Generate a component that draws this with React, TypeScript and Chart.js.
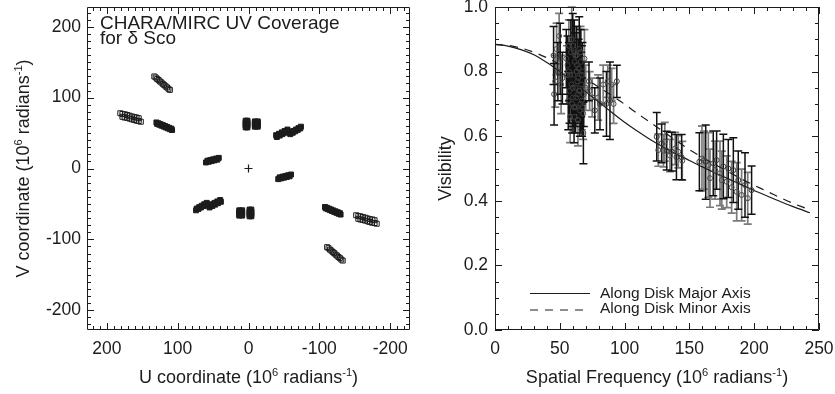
import { useEffect, useRef } from "react";
import { Chart, registerables } from "chart.js";
Chart.register(...registerables);

const FONT = "'Liberation Sans', Arial, Helvetica, sans-serif";
const INK = "#1c1c1c";

// ---------- Left panel: UV coverage ----------
const uOpen = [
  133, 131, 129, 127, 125, 123, 121, 119, 117, 115, 113, 111,
  -111, -113, -115, -117, -119, -121, -123, -125, -127, -129, -131, -133,
  181, 178, 174.5, 171, 168, 164.5, 161, 158, 155,
  178, 175, 171.5, 168, 165, 161.5, 158, 155, 152,
  -181, -178, -174.5, -171, -168, -164.5, -161, -158, -155,
  -178, -175, -171.5, -168, -165, -161.5, -158, -155, -152,
];
const vOpen = [
  130, 128.5, 126.5, 125, 123, 121.5, 119.5, 118, 116, 114.5, 112.5, 111,
  -111, -112.5, -114.5, -116, -118, -119.5, -121.5, -123, -125, -126.5, -128.5, -130,
  78, 77, 76.5, 75.5, 74.5, 73.5, 72.5, 72, 71,
  73, 72, 71.5, 70.5, 69.5, 68.5, 67.5, 67, 66,
  -78, -77, -76.5, -75.5, -74.5, -73.5, -72.5, -72, -71,
  -73, -72, -71.5, -70.5, -69.5, -68.5, -67.5, -67, -66,
];
const uFilled = [
  130, 127, 124, 121, 118, 115, 112, 109,
  129, 126, 123, 120, 117, 114, 111, 108,
  -130, -127, -124, -121, -118, -115, -112, -109,
  -129, -126, -123, -120, -117, -114, -111, -108,
  1.5, 1.5, 1.5, 1.5, 1.5, 4, 4, 4, 4, 4,
  -9, -9, -9, -9, -9, -13, -13, -13, -13, -13,
  -1.5, -1.5, -1.5, -1.5, -1.5, -4, -4, -4, -4, -4,
  9, 9, 9, 9, 9, 13, 13, 13, 13, 13,
  -39, -43, -47, -51, -55, -40, -44, -48, -52, -56,
  -60, -63.5, -67, -70.5, -74, -59, -62.5, -66, -69.5, -73,
  39, 43, 47, 51, 55, 40, 44, 48, 52, 56,
  60, 63.5, 67, 70.5, 74, 59, 62.5, 66, 69.5, 73,
  60, 56, 52, 48, 44, 58, 54, 50, 46, 42,
  -60, -56, -52, -48, -44, -58, -54, -50, -46, -42,
];
const vFilled = [
  65, 63.8, 62.5, 61.3, 60, 58.8, 57.5, 56.3,
  63, 61.8, 60.5, 59.3, 58, 56.8, 55.5, 54.3,
  -65, -63.8, -62.5, -61.3, -60, -58.8, -57.5, -56.3,
  -63, -61.8, -60.5, -59.3, -58, -56.8, -55.5, -54.3,
  58, 60.5, 63, 65.5, 67.5, 58, 60.5, 63, 65.5, 67.5,
  59, 61, 63, 65, 66.5, 59, 61, 63, 65, 66.5,
  -58, -60.5, -63, -65.5, -67.5, -58, -60.5, -63, -65.5, -67.5,
  -59, -61, -63, -65, -66.5, -59, -61, -63, -65, -66.5,
  47, 49, 51, 53, 55, 44.5, 46.5, 48.5, 50.5, 52.5,
  51, 53, 55, 57, 59, 48.5, 50.5, 52.5, 54.5, 56.5,
  -47, -49, -51, -53, -55, -44.5, -46.5, -48.5, -50.5, -52.5,
  -51, -53, -55, -57, -59, -48.5, -50.5, -52.5, -54.5, -56.5,
  8.5, 9.5, 10.5, 11.5, 12.5, 11, 12, 13, 14, 15,
  -8.5, -9.5, -10.5, -11.5, -12.5, -11, -12, -13, -14, -15,
];
const uOrigin = [0];
const vOrigin = [0];
const uvTickValues = [200, 100, 0, -100, -200];
const uvTickLabels = ["200", "100", "0", "-100", "-200"];
const titleLines = ["CHARA/MIRC UV Coverage", "for δ Sco"];

// ---------- Right panel: visibilities ----------
const freqA = [45.2, 45.6, 48.5, 50.3, 52.0, 55.0, 56.0, 56.5, 57.0, 57.5, 58.0, 58.5, 59.0, 59.5, 60.0, 60.2, 60.5, 61.0, 61.2, 61.5, 62.0, 62.2, 62.5, 63.0, 63.2, 63.5, 64.0, 64.2, 64.5, 65.0, 65.2, 65.5, 66.0, 66.2, 66.5, 67.0, 67.2, 67.5, 68.2, 68.5, 72.5, 77.0, 81.0, 86.0, 88.7, 94.0, 124.8, 128.6, 132.5, 136.3, 140.0, 144.0, 157.7, 162.6, 168.4, 171.0, 176.2, 180.0, 183.9, 187.7, 192.9, 198.0];
const visA = [0.85, 0.73, 0.80, 0.84, 0.78, 0.84, 0.82, 0.71, 0.80, 0.74, 0.79, 0.86, 0.76, 0.70, 0.88, 0.72, 0.79, 0.66, 0.86, 0.83, 0.75, 0.69, 0.72, 0.85, 0.82, 0.77, 0.73, 0.78, 0.81, 0.87, 0.74, 0.68, 0.70, 0.83, 0.76, 0.79, 0.69, 0.80, 0.61, 0.73, 0.77, 0.68, 0.70, 0.70, 0.71, 0.77, 0.598, 0.578, 0.555, 0.552, 0.535, 0.535, 0.521, 0.52, 0.516, 0.526, 0.506, 0.50, 0.495, 0.464, 0.449, 0.433];
const errA = [0.09, 0.095, 0.09, 0.11, 0.08, 0.09, 0.09, 0.09, 0.09, 0.10, 0.09, 0.10, 0.10, 0.09, 0.10, 0.09, 0.10, 0.08, 0.10, 0.09, 0.09, 0.08, 0.09, 0.09, 0.10, 0.10, 0.09, 0.09, 0.09, 0.10, 0.09, 0.08, 0.09, 0.10, 0.10, 0.09, 0.09, 0.09, 0.095, 0.10, 0.06, 0.07, 0.08, 0.10, 0.12, 0.05, 0.075, 0.06, 0.06, 0.06, 0.07, 0.07, 0.09, 0.115, 0.10, 0.09, 0.10, 0.09, 0.10, 0.09, 0.10, 0.075];
const freqB = [46.5, 47.5, 49.5, 51.0, 55.5, 57.0, 58.0, 59.2, 60.0, 61.0, 62.0, 63.0, 64.0, 65.0, 66.0, 67.0, 68.0, 69.0, 70.0, 73.0, 75.0, 79.6, 83.5, 87.0, 90.0, 91.5, 126.0, 130.0, 131.0, 135.0, 139.0, 141.4, 144.5, 159.7, 161.3, 164.6, 165.9, 169.8, 173.6, 175.0, 178.8, 182.6, 186.5, 190.3, 195.0];
const visB = [0.77, 0.87, 0.91, 0.76, 0.79, 0.88, 0.66, 0.90, 0.75, 0.69, 0.85, 0.80, 0.65, 0.74, 0.86, 0.71, 0.67, 0.84, 0.75, 0.74, 0.72, 0.72, 0.76, 0.77, 0.76, 0.70, 0.557, 0.555, 0.583, 0.54, 0.562, 0.552, 0.524, 0.531, 0.526, 0.511, 0.47, 0.495, 0.485, 0.464, 0.459, 0.442, 0.428, 0.418, 0.408];
const errB = [0.08, 0.08, 0.07, 0.09, 0.09, 0.08, 0.08, 0.10, 0.10, 0.08, 0.09, 0.10, 0.08, 0.09, 0.08, 0.09, 0.08, 0.09, 0.07, 0.06, 0.06, 0.07, 0.06, 0.05, 0.05, 0.06, 0.05, 0.05, 0.06, 0.05, 0.05, 0.05, 0.06, 0.10, 0.09, 0.10, 0.09, 0.09, 0.10, 0.09, 0.08, 0.08, 0.09, 0.08, 0.08];
const modelFreq = [0, 10, 20, 30, 40, 50, 60, 70, 80, 90, 100, 110, 120, 130, 140, 150, 160, 170, 180, 190, 200, 210, 220, 230, 243];
const modelMajor = [0.884, 0.879, 0.868, 0.852, 0.828, 0.800, 0.770, 0.738, 0.706, 0.674, 0.643, 0.615, 0.589, 0.566, 0.545, 0.525, 0.505, 0.486, 0.468, 0.450, 0.432, 0.415, 0.398, 0.382, 0.363];
const modelMinor = [0.884, 0.881, 0.873, 0.860, 0.843, 0.822, 0.800, 0.777, 0.752, 0.726, 0.699, 0.670, 0.642, 0.614, 0.586, 0.558, 0.535, 0.512, 0.490, 0.468, 0.448, 0.429, 0.410, 0.392, 0.372];
const freqTickValues = [0, 50, 100, 150, 200, 250];
const freqTickLabels = ["0", "50", "100", "150", "200", "250"];
const visTickValues = [0, 0.2, 0.4, 0.6, 0.8, 1.0];
const visTickLabels = ["0.0", "0.2", "0.4", "0.6", "0.8", "1.0"];
const legendLabels = ["Along Disk Major Axis", "Along Disk Minor Axis"];

type Part = { t: string; sup?: boolean };
const uTitle: Part[] = [{ t: "U coordinate (10" }, { t: "6", sup: true }, { t: " radians" }, { t: "-1", sup: true }, { t: ")" }];
const vTitle: Part[] = [{ t: "V coordinate (10" }, { t: "6", sup: true }, { t: " radians" }, { t: "-1", sup: true }, { t: ")" }];
const freqTitle: Part[] = [{ t: "Spatial Frequency (10" }, { t: "6", sup: true }, { t: " radians" }, { t: "-1", sup: true }, { t: ")" }];
const visTitle: Part[] = [{ t: "Visibility" }];

function drawRich(ctx: CanvasRenderingContext2D, parts: Part[], size: number, cx: number, cy: number, rotate: boolean) {
  ctx.save();
  ctx.translate(cx, cy);
  if (rotate) ctx.rotate(-Math.PI / 2);
  const supSize = size * 0.62;
  const widths = parts.map((p) => {
    ctx.font = `${p.sup ? supSize : size}px ${FONT}`;
    return ctx.measureText(p.t).width;
  });
  const total = widths.reduce((a, b) => a + b, 0);
  let x = -total / 2;
  const base = size * 0.36;
  ctx.fillStyle = INK;
  ctx.textBaseline = "alphabetic";
  ctx.textAlign = "left";
  parts.forEach((p, i) => {
    ctx.font = `${p.sup ? supSize : size}px ${FONT}`;
    ctx.fillText(p.t, x, p.sup ? base - size * 0.42 : base);
    x += widths[i];
  });
  ctx.restore();
}

function makeFrame(id: string, cfg: { xMinor: number; xMajorEvery: number; yMinor: number; yMajorEvery: number; major: number; minor: number }) {
  return {
    id,
    afterDatasetsDraw(chart: any) {
      const { ctx, chartArea: a, scales } = chart;
      const xs = scales.x, ys = scales.y;
      ctx.save();
      ctx.strokeStyle = INK;
      ctx.lineWidth = 1;
      ctx.beginPath();
      ctx.rect(a.left + 0.5, a.top + 0.5, a.right - a.left - 1, a.bottom - a.top - 1);
      ctx.stroke();
      ctx.beginPath();
      const xlo = Math.ceil(Math.min(xs.min, xs.max) / cfg.xMinor - 1e-9);
      const xhi = Math.floor(Math.max(xs.min, xs.max) / cfg.xMinor + 1e-9);
      for (let k = xlo; k <= xhi; k++) {
        const len = k % cfg.xMajorEvery === 0 ? cfg.major : cfg.minor;
        const px = Math.round(xs.getPixelForValue(k * cfg.xMinor)) + 0.5;
        ctx.moveTo(px, a.bottom); ctx.lineTo(px, a.bottom - len);
        ctx.moveTo(px, a.top); ctx.lineTo(px, a.top + len);
      }
      const ylo = Math.ceil(ys.min / cfg.yMinor - 1e-9);
      const yhi = Math.floor(ys.max / cfg.yMinor + 1e-9);
      for (let k = ylo; k <= yhi; k++) {
        const len = k % cfg.yMajorEvery === 0 ? cfg.major : cfg.minor;
        const py = Math.round(ys.getPixelForValue(k * cfg.yMinor)) + 0.5;
        ctx.moveTo(a.left, py); ctx.lineTo(a.left + len, py);
        ctx.moveTo(a.right, py); ctx.lineTo(a.right - len, py);
      }
      ctx.stroke();
      ctx.restore();
    },
  };
}

function makeTitles(id: string, xParts: Part[], xY: number, yParts: Part[], yX: number, size: number) {
  return {
    id,
    afterDraw(chart: any) {
      const a = chart.chartArea;
      drawRich(chart.ctx, xParts, size, (a.left + a.right) / 2, xY, false);
      drawRich(chart.ctx, yParts, size, yX, (a.top + a.bottom) / 2, true);
    },
  };
}

const panelText = {
  id: "panelText",
  afterDraw(chart: any) {
    const ctx = chart.ctx;
    ctx.save();
    ctx.font = `19px ${FONT}`;
    ctx.fillStyle = INK;
    ctx.textBaseline = "alphabetic";
    ctx.fillText(titleLines[0], 100, 28.5);
    ctx.fillText(titleLines[1], 100, 43.5);
    ctx.restore();
  },
};

const errorBars = {
  id: "errorBars",
  beforeDatasetsDraw(chart: any) {
    const { ctx, scales } = chart;
    const list = [...chart.data.datasets].reverse();
    list.forEach((ds: any) => {
      if (!ds.errors) return;
      ctx.save();
      ctx.strokeStyle = ds.errColor;
      ctx.lineWidth = ds.errWidth;
      ctx.beginPath();
      ds.data.forEach((p: any, i: number) => {
        const e = ds.errors[i];
        const x = scales.x.getPixelForValue(p.x);
        const y1 = scales.y.getPixelForValue(p.y + e);
        const y0 = scales.y.getPixelForValue(p.y - e);
        ctx.moveTo(x, y0); ctx.lineTo(x, y1);
        ctx.moveTo(x - 4, y0); ctx.lineTo(x + 4, y0);
        ctx.moveTo(x - 4, y1); ctx.lineTo(x + 4, y1);
      });
      ctx.stroke();
      ctx.restore();
    });
  },
};

const lineLegend = {
  id: "lineLegend",
  afterDraw(chart: any) {
    const ctx = chart.ctx;
    const items = chart.data.datasets.filter((d: any) => d.inLegend);
    const lineY = [293.5, 310];
    const textY = [297.5, 313];
    const lineEnd = [170, 163];
    items.forEach((ds: any, i: number) => {
      ctx.save();
      ctx.strokeStyle = ds.borderColor;
      ctx.lineWidth = ds.borderWidth;
      ctx.setLineDash(ds.borderDash || []);
      ctx.beginPath();
      ctx.moveTo(110, lineY[i]);
      ctx.lineTo(lineEnd[i], lineY[i]);
      ctx.stroke();
      ctx.setLineDash([]);
      ctx.font = `15.5px ${FONT}`;
      ctx.fillStyle = INK;
      ctx.textBaseline = "alphabetic";
      ctx.fillText(ds.label, 180, textY[i]);
      ctx.restore();
    });
  },
};

function axis(opts: any) {
  const { values, labels, min, max, reverse, padding, horizontal, size } = opts;
  return {
    type: "linear",
    min,
    max,
    reverse: !!reverse,
    grid: { display: false, drawTicks: false },
    border: { display: false },
    ticks: {
      color: INK,
      font: { family: FONT, size: 17.5 },
      padding,
      maxRotation: 0,
      autoSkip: false,
      callback: (v: any) => {
        const i = values.findIndex((t: number) => Math.abs(t - Number(v)) < 1e-9);
        return i >= 0 ? labels[i] : "";
      },
    },
    afterBuildTicks: (s: any) => {
      s.ticks = values.map((v: number) => ({ value: v }));
    },
    afterFit: (s: any) => {
      if (horizontal) {
        s.height = size;
        s.paddingLeft = 0;
        s.paddingRight = 0;
      } else {
        s.width = size;
        s.paddingTop = 0;
        s.paddingBottom = 0;
      }
    },
  };
}

export default function App() {
  const leftRef = useRef<HTMLCanvasElement>(null);
  const rightRef = useRef<HTMLCanvasElement>(null);

  useEffect(() => {
    const left = new Chart(leftRef.current!, {
      type: "scatter",
      data: {
        datasets: [
          {
            label: "uv open",
            data: uOpen.map((u, i) => ({ x: u, y: vOpen[i] })),
            pointStyle: "rect",
            pointRadius: 3.5,
            borderColor: INK,
            borderWidth: 1,
            backgroundColor: "rgba(0,0,0,0)",
          },
          {
            label: "uv dense",
            data: uFilled.map((u, i) => ({ x: u, y: vFilled[i] })),
            pointStyle: "rect",
            pointRadius: 3.5,
            borderColor: INK,
            borderWidth: 1,
            backgroundColor: INK,
          },
          {
            label: "origin",
            data: uOrigin.map((u, i) => ({ x: u, y: vOrigin[i] })),
            pointStyle: "cross",
            pointRadius: 4,
            borderColor: INK,
            borderWidth: 1.2,
          },
        ],
      } as any,
      options: {
        responsive: false,
        animation: false,
        events: [],
        layout: { padding: { left: 0, right: 10, top: 7, bottom: 0 } },
        plugins: { legend: { display: false }, tooltip: { enabled: false } },
        scales: {
          x: axis({ values: uvTickValues, labels: uvTickLabels, min: -228, max: 228, reverse: true, padding: 9, horizontal: true, size: 64 }),
          y: axis({ values: uvTickValues, labels: uvTickLabels, min: -228, max: 228, padding: 6, horizontal: false, size: 87 }),
        } as any,
      },
      plugins: [
        makeFrame("frameL", { xMinor: 10, xMajorEvery: 10, yMinor: 10, yMajorEvery: 10, major: 7, minor: 4 }),
        makeTitles("titlesL", uTitle, 377, vTitle, 23, 18),
        panelText,
      ],
    });

    const right = new Chart(rightRef.current!, {
      type: "scatter",
      data: {
        datasets: [
          {
            label: "set A",
            data: freqA.map((f, i) => ({ x: f, y: visA[i] })),
            errors: errA,
            errColor: "#111111",
            errWidth: 1.5,
            pointStyle: "circle",
            pointRadius: 2.5,
            borderColor: "#3c3c3c",
            borderWidth: 1,
            backgroundColor: "rgba(0,0,0,0)",
          },
          {
            label: "set B",
            data: freqB.map((f, i) => ({ x: f, y: visB[i] })),
            errors: errB,
            errColor: "#7a7a7a",
            errWidth: 1.7,
            pointStyle: "circle",
            pointRadius: 2.5,
            borderColor: "#4a4a4a",
            borderWidth: 1,
            backgroundColor: "rgba(0,0,0,0)",
          },
          {
            label: legendLabels[0],
            inLegend: true,
            data: modelFreq.map((f, i) => ({ x: f, y: modelMajor[i] })),
            showLine: true,
            tension: 0.3,
            pointRadius: 0,
            borderColor: INK,
            borderWidth: 1.2,
          },
          {
            label: legendLabels[1],
            inLegend: true,
            data: modelFreq.map((f, i) => ({ x: f, y: modelMinor[i] })),
            showLine: true,
            tension: 0.3,
            pointRadius: 0,
            borderColor: INK,
            borderWidth: 1.2,
            borderDash: [8, 7],
          },
        ],
      } as any,
      options: {
        responsive: false,
        animation: false,
        events: [],
        layout: { padding: { left: 0, right: 16, top: 7, bottom: 0 } },
        plugins: { legend: { display: false }, tooltip: { enabled: false } },
        scales: {
          x: axis({ values: freqTickValues, labels: freqTickLabels, min: 0, max: 250, padding: 9, horizontal: true, size: 64 }),
          y: axis({ values: visTickValues, labels: visTickLabels, min: 0, max: 1, padding: 7, horizontal: false, size: 75 }),
        } as any,
      },
      plugins: [
        errorBars,
        makeFrame("frameR", { xMinor: 10, xMajorEvery: 5, yMinor: 0.05, yMajorEvery: 4, major: 7, minor: 4 }),
        makeTitles("titlesR", freqTitle, 377, visTitle, 25, 18),
        lineLegend,
      ],
    });

    return () => {
      left.destroy();
      right.destroy();
    };
  }, []);

  return (
    <div style={{ position: "fixed", left: 0, top: 0, width: 835, height: 394, background: "#ffffff", overflow: "hidden" }}>
      <canvas ref={leftRef} width={420} height={394} style={{ position: "absolute", left: 0, top: 0, width: 420, height: 394 }} />
      <canvas ref={rightRef} width={415} height={394} style={{ position: "absolute", left: 420, top: 0, width: 415, height: 394 }} />
    </div>
  );
}
